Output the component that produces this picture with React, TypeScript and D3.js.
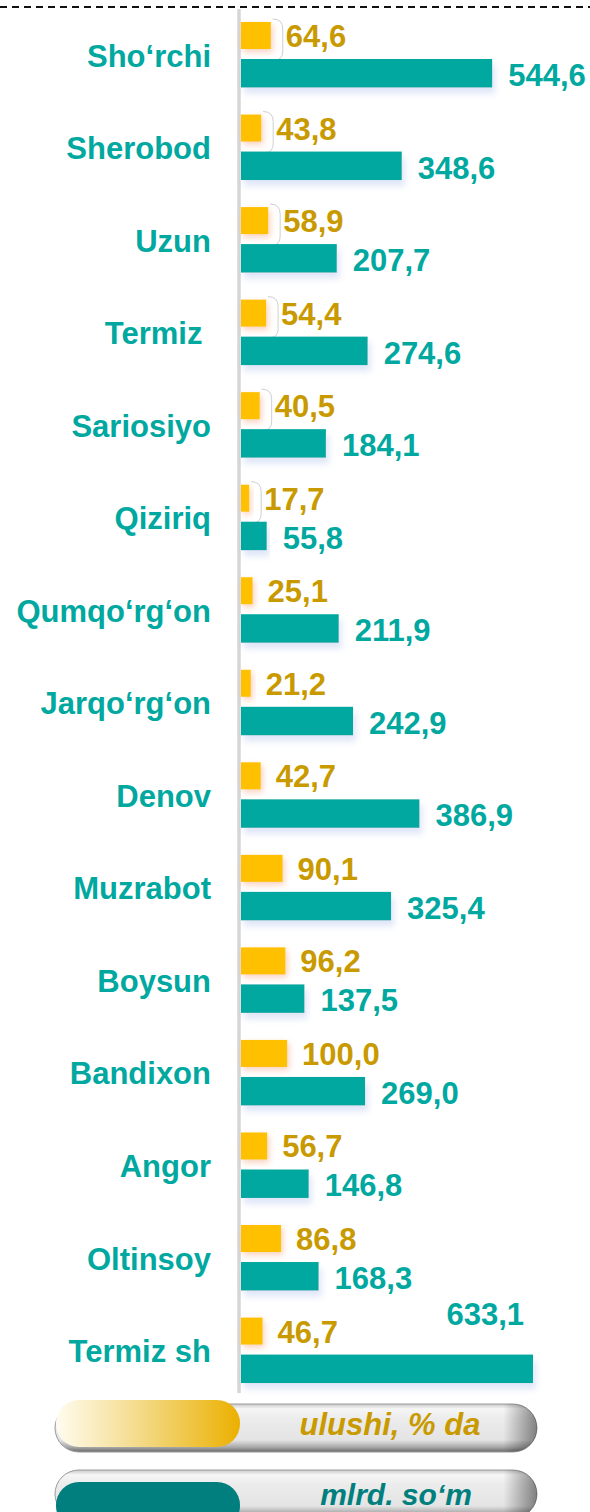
import React from "react";
import * as d3 from "d3";

const categories = ["Sho‘rchi", "Sherobod", "Uzun", "Termiz ", "Sariosiyo", "Qiziriq", "Qumqo‘rg‘on", "Jarqo‘rg‘on", "Denov", "Muzrabot", "Boysun", "Bandixon", "Angor", "Oltinsoy", "Termiz sh"];
const shareValues = [64.6, 43.8, 58.9, 54.4, 40.5, 17.7, 25.1, 21.2, 42.7, 90.1, 96.2, 100.0, 56.7, 86.8, 46.7];
const amountValues = [544.6, 348.6, 207.7, 274.6, 184.1, 55.8, 211.9, 242.9, 386.9, 325.4, 137.5, 269.0, 146.8, 168.3, 633.1];
const legendLabels = ["ulushi, % da", "mlrd. so‘m"];

const W = 590;
const H = 1512;
const TEAL = "#00A89F";
const TEAL_DARK = "#007F7E";
const YELLOW = "#FFC000";
const GOLD_TEXT = "#C99A00";
const FONT = "'Liberation Sans', Arial, Helvetica, sans-serif";

const fmt = (v: number) => d3.format(".1f")(v).replace(".", ",");

export default function App() {
  const x = d3.scaleLinear().domain([0, d3.max(amountValues) as number]).range([241, 533]);
  const step = 92.54;
  const y = d3
    .scaleBand<string>()
    .domain(categories)
    .range([54 - step / 2, 54 - step / 2 + step * categories.length])
    .padding(0);
  const bw = y.bandwidth();
  const cy = (c: string) => (y(c) as number) + bw / 2;

  return (
    <svg width={W} height={H} style={{ position: "absolute", left: 0, top: 0, background: "#fff" }} fontFamily={FONT}>
      <defs>
        <filter id="yShadow" x="-50%" y="-50%" width="200%" height="200%">
          <feDropShadow dx="2" dy="3" stdDeviation="3" floodColor="#F07A40" floodOpacity="0.35" />
        </filter>
        <filter id="tShadow" x="-10%" y="-50%" width="120%" height="200%">
          <feDropShadow dx="3" dy="6" stdDeviation="3" floodColor="#B8C8EE" floodOpacity="0.45" />
        </filter>
        <linearGradient id="pillGrad" x1="0" y1="0" x2="0" y2="1">
          <stop offset="0" stopColor="#c8c8c8" />
          <stop offset="0.1" stopColor="#f6f6f6" />
          <stop offset="0.3" stopColor="#ececec" />
          <stop offset="0.75" stopColor="#e4e4e4" />
          <stop offset="0.9" stopColor="#a8a8a8" />
          <stop offset="1" stopColor="#6a6a6a" />
        </linearGradient>
        <linearGradient id="pillEnd" x1="0" y1="0" x2="1" y2="0">
          <stop offset="0" stopColor="#000" stopOpacity="0" />
          <stop offset="0.93" stopColor="#000" stopOpacity="0" />
          <stop offset="1" stopColor="#000" stopOpacity="0.45" />
        </linearGradient>
        <linearGradient id="goldGrad" x1="0" y1="0" x2="1" y2="0">
          <stop offset="0" stopColor="#FFFCF0" />
          <stop offset="0.5" stopColor="#F3D77E" />
          <stop offset="1" stopColor="#EBB000" />
        </linearGradient>
        <clipPath id="pageClip">
          <rect x={0} y={0} width={W} height={H} />
        </clipPath>
      </defs>

      {/* top dashed line */}
      <line x1={0} x2={W} y1={7} y2={7} stroke="#111" strokeWidth={2} strokeDasharray="7 5" />

      {/* axis line */}
      <line x1={239} x2={239} y1={9} y2={1393} stroke="#d6d6d6" strokeWidth={3.5} />

      {categories.map((c, i) => {
        const cc = cy(c);
        const yEnd = x(shareValues[i]);
        const tEnd = x(amountValues[i]);
        const last = i === categories.length - 1;
        return (
          <g key={c}>
            <text
              x={211}
              y={cc + 12.5}
              textAnchor="end"
              fontSize={31}
              fontWeight="bold"
              fill={TEAL}
              style={{ whiteSpace: "pre" }}
            >
              {c}
            </text>
            {i < 6 && (
              <path
                d={`M${yEnd + 2},${cc - 35} Q${yEnd + 12},${cc - 35} ${yEnd + 12},${cc - 25} L${yEnd + 12},${cc - 3} Q${yEnd + 12},${cc + 6} ${yEnd + 4},${cc + 6}`}
                fill="none"
                stroke="#cfcfcf"
                strokeWidth={1}
              />
            )}
            <rect
              x={x(0)}
              y={cc - 32}
              width={yEnd - x(0)}
              height={27}
              fill={YELLOW}
              filter="url(#yShadow)"
            />
            <rect
              x={x(0)}
              y={cc + 5}
              width={tEnd - x(0)}
              height={28.5}
              fill={TEAL}
              filter="url(#tShadow)"
            />
            <text x={yEnd + 15} y={cc - 7} fontSize={31} fontWeight="bold" fill={GOLD_TEXT}>
              {fmt(shareValues[i])}
            </text>
            <text
              x={last ? tEnd - 9 : tEnd + 16}
              y={last ? cc - 25 : cc + 32}
              textAnchor={last ? "end" : "start"}
              fontSize={31}
              fontWeight="bold"
              fill={TEAL}
            >
              {fmt(amountValues[i])}
            </text>
          </g>
        );
      })}

      {/* legend */}
      <g clipPath="url(#pageClip)">
        {legendLabels.map((lab, i) => {
          const top = i === 0 ? 1404 : 1470;
          const h = 48;
          const innerTop = i === 0 ? 1400 : 1482;
          return (
            <g key={lab}>
              <rect x={55} y={top} width={482} height={h} rx={24} ry={24} fill="url(#pillGrad)" stroke="#9a9a9a" strokeWidth={1} />
              <rect x={55} y={top} width={482} height={h} rx={24} ry={24} fill="url(#pillEnd)" />
              <rect
                x={56}
                y={innerTop}
                width={184}
                height={47}
                rx={23}
                ry={23}
                fill={i === 0 ? "url(#goldGrad)" : TEAL_DARK}
              />
              <text
                x={i === 0 ? 390 : 396}
                y={i === 0 ? 1435 : 1505}
                textAnchor="middle"
                fontSize={i === 0 ? 31 : 30}
                fontWeight="bold"
                fontStyle="italic"
                fill={i === 0 ? GOLD_TEXT : TEAL_DARK}
              >
                {lab}
              </text>
            </g>
          );
        })}
      </g>
    </svg>
  );
}
